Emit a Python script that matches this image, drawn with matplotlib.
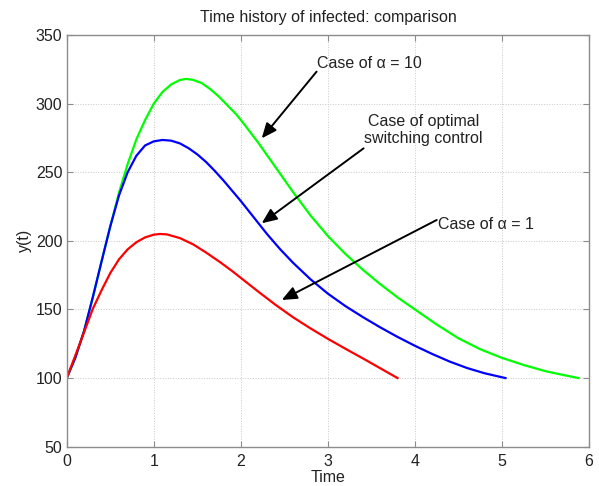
import matplotlib
matplotlib.use("Agg")
import matplotlib.pyplot as plt

# infected population y(t) for the three control strategies
T_ALPHA10 = [0.0, 0.1, 0.2, 0.3, 0.4, 0.5, 0.6, 0.7, 0.8, 0.9, 1.0, 1.1, 1.2, 1.3, 1.37, 1.45,
             1.55, 1.65, 1.75, 1.85, 1.95, 2.05, 2.2, 2.4, 2.6, 2.8, 3.0, 3.2, 3.4, 3.6, 3.8,
             4.0, 4.25, 4.5, 4.75, 5.0, 5.25, 5.5, 5.7, 5.88]
Y_ALPHA10 = [100, 115, 134.5, 159, 185, 210.5, 235, 256, 274, 288, 300, 308.5, 314, 317.2, 318, 317.3,
             315, 310.5, 305, 298.5, 292, 284, 271.5, 253.5, 235.5, 218.5, 203.5, 190.5, 179, 168.5, 158.8,
             150, 139, 129, 121, 114.7, 109.5, 105, 102.3, 100]

T_OPTIMAL = [0.0, 0.1, 0.2, 0.3, 0.4, 0.5, 0.6, 0.7, 0.8, 0.9, 1.0, 1.1, 1.2, 1.3, 1.4, 1.5,
             1.6, 1.7, 1.8, 1.9, 2.0, 2.15, 2.3, 2.45, 2.6, 2.8, 3.0, 3.2, 3.4, 3.6, 3.8,
             4.0, 4.2, 4.4, 4.6, 4.8, 5.04]
Y_OPTIMAL = [100, 115, 134.5, 159, 185, 210.5, 233, 250, 262, 269.5, 272.5, 273.5, 273, 271, 267.5, 263,
             257.5, 251, 244, 236.5, 229, 217, 205, 194, 184, 172, 161.5, 152.5, 144.5, 137, 130,
             123.5, 117.5, 112, 107.3, 103.5, 100]

T_ALPHA1 = [0.0, 0.15, 0.3, 0.4, 0.5, 0.6, 0.7, 0.8, 0.9, 1.0, 1.07, 1.15, 1.3, 1.45, 1.6, 1.75,
            1.9, 2.05, 2.2, 2.4, 2.6, 2.8, 3.0, 3.2, 3.4, 3.6, 3.8]
Y_ALPHA1 = [100, 125, 150.5, 164, 176.5, 186.5, 193.8, 199, 202.5, 204.5, 205, 204.7, 202, 197.5, 191.5, 185,
            178, 170.5, 163, 153.3, 144.3, 136.2, 128.6, 121.4, 114.4, 107.2, 100]

# annotation texts: (label, text position, arrow tail, arrow head, alignment)
NOTES = [
    ("Case of α = 10", (2.87, 329.4), (2.87, 323.3), (2.24, 274.7), "left"),
    ("Case of optimal\nswitching control", (4.10, 280.8), (3.41, 267.4), (2.24, 212.8), "center"),
    ("Case of α = 1", (4.27, 211.6), (4.25, 215.2), (2.47, 156.9), "left"),
]

XTICKS = [0, 1, 2, 3, 4, 5, 6]
YTICKS = [50, 100, 150, 200, 250, 300, 350]

plt.rcParams["font.family"] = ["Liberation Sans", "DejaVu Sans"]

TEXT = "#222222"
FS = 11.5

fig = plt.figure(figsize=(5.99, 4.86), dpi=100)
ax = fig.add_axes([0.1114, 0.0809, 0.872, 0.8471])

ax.plot(T_ALPHA10, Y_ALPHA10, color="#00ff00", linewidth=1.6)
ax.plot(T_OPTIMAL, Y_OPTIMAL, color="#0000ff", linewidth=1.6)
ax.plot(T_ALPHA1, Y_ALPHA1, color="#ff0000", linewidth=1.6)

for label, txt_xy, tail, head, ha in NOTES:
    ax.annotate("", xy=head, xytext=tail,
                arrowprops=dict(arrowstyle="-|>,head_length=0.7,head_width=0.3",
                                mutation_scale=13, color="black", lw=1.4,
                                shrinkA=0, shrinkB=0))
    ax.text(txt_xy[0], txt_xy[1], label, ha=ha, va="center", fontsize=FS,
            color=TEXT, linespacing=1.1)

ax.set_xlim(0, 6)
ax.set_ylim(50, 350)
ax.set_xticks(XTICKS)
ax.set_yticks(YTICKS)
ax.grid(True, linestyle=":", color="#c8c8c8", linewidth=0.7)
ax.set_axisbelow(True)
for side in ax.spines.values():
    side.set_color("#8c8c8c")
    side.set_linewidth(1.0)
ax.tick_params(direction="in", length=4, width=0.8, color="#8c8c8c",
               top=True, right=True, labelsize=FS, labelcolor=TEXT)
ax.tick_params(axis="x", pad=5)
ax.tick_params(axis="y", pad=3)

ax.set_title("Time history of infected: comparison", fontsize=FS, color=TEXT, pad=9)
ax.set_xlabel("Time", fontsize=FS, color=TEXT, labelpad=1)
ax.set_ylabel("y(t)", fontsize=FS, color=TEXT, labelpad=3)

fig.savefig("out.png", dpi=100)
